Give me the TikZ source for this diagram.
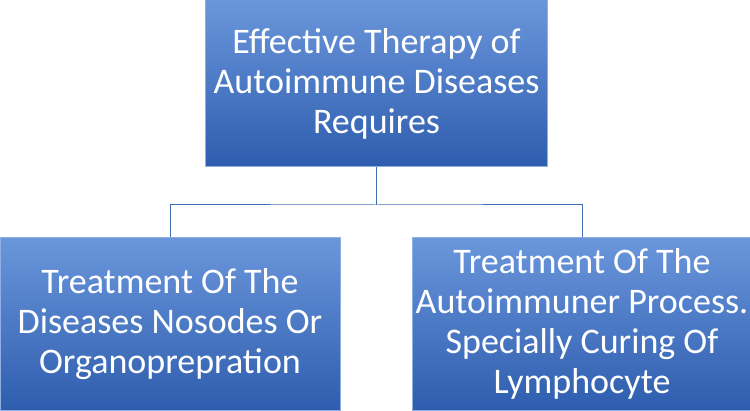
\documentclass[tikz,border=0pt]{standalone}
\usepackage{fontspec}
\setmainfont{Carlito}
\definecolor{btop}{HTML}{6A96DB}
\definecolor{bbot}{HTML}{2E5DAE}
\definecolor{bline}{HTML}{8FB0E3}
\definecolor{conn}{HTML}{3E6DB5}
\begin{document}
\begin{tikzpicture}[x=1pt,y=1pt,
  boxstyle/.style={draw=bline,line width=1pt,top color=btop,bottom color=bbot,text=white,align=center,
    font=\fontsize{36}{40}\selectfont,inner sep=0pt}]
\useasboundingbox (0,0) rectangle (750,410);
\node[boxstyle,minimum width=342,minimum height=167] (top) at (376.5,326.5) {Effective Therapy of\\Autoimmune Diseases\\Requires};
\node[boxstyle,minimum width=340,minimum height=172] (l) at (170,86) {Treatment Of The\\Diseases Nosodes Or\\Organoprepration};
\node[boxstyle,minimum width=340,minimum height=172] (r) at (582,86) {Treatment Of The\\Autoimmuner Process.\\Specially Curing Of\\Lymphocyte};
\coordinate (m) at (376.5,205);
\draw[conn,line width=1pt] (top.south) -- (m);
\draw[conn,line width=1pt] (l.north) |- (m) -| (r.north);
\end{tikzpicture}
\end{document}
